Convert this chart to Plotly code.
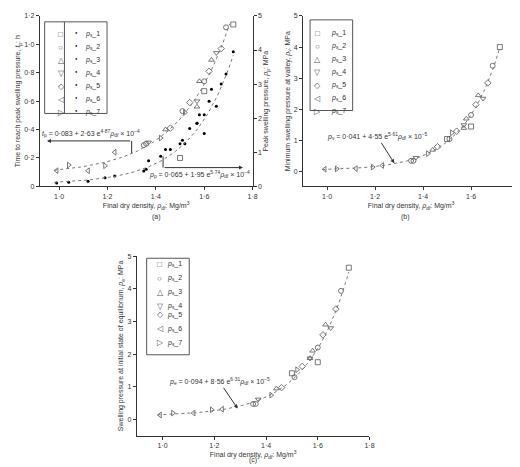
import numpy as np
import plotly.graph_objects as go

# specimens, series p_s_1 .. p_s_7
names = ['1', '2', '3', '4', '5', '6', '7']
symbols = ['square-open', 'circle-open', 'triangle-up-open', 'triangle-down-open',
           'diamond-open', 'triangle-left-open', 'triangle-right-open']
glyphs = ['□', '○', '△', '▽', '◇', '◁', '▷']

rho = [[1.50, 1.60, 1.72],
       [1.35, 1.36, 1.51, 1.60, 1.69],
       [1.44, 1.57, 1.58, 1.63],
       [1.37, 1.57, 1.65],
       [1.46, 1.54, 1.62, 1.67],
       [0.99, 1.12, 1.23],
       [1.04, 1.19, 1.42, 1.52]]
tp = [[0.20, 0.67, 1.14],
      [0.29, 0.30, 0.53, 0.74, 1.12],
      [0.40, 0.56, 0.74, 0.89],
      [0.31, 0.60, 0.94],
      [0.41, 0.59, 0.81, 0.97],
      [0.11, 0.11, 0.24],
      [0.15, 0.145, 0.34, 0.52]]
pp = [[1.25, 1.55, 3.95],
      [0.45, 0.50, 1.35, 2.10, 3.30],
      [1.08, 1.85, 2.10, 2.85],
      [0.75, 1.85, 2.35],
      [1.08, 1.70, 2.50, 3.00],
      [0.10, 0.15, 0.30],
      [0.12, 0.25, 0.88, 1.25]]
pv = [[1.05, 1.45, 4.00],
      [0.35, 0.35, 1.05, 1.82, 3.40],
      [0.70, 1.40, 1.70, 2.45],
      [0.45, 1.50, 2.35],
      [0.80, 1.30, 2.15, 2.85],
      [0.08, 0.10, 0.20],
      [0.09, 0.15, 0.58, 1.25]]
pe = [[1.41, 1.75, 4.65],
      [0.47, 0.47, 1.29, 2.20, 3.94],
      [0.94, 1.87, 2.10, 2.90],
      [0.61, 1.87, 2.80],
      [0.97, 1.62, 2.59, 3.38],
      [0.13, 0.19, 0.31],
      [0.19, 0.29, 0.74, 1.52]]

grey = '#555'
W, H = 520, 467
px = lambda x: x / W
py = lambda y: 1 - y / H

def lab(n):
    return '<i>p</i><sub>s</sub>_' + n

fig = go.Figure()
for i in range(7):
    mk = dict(symbol=symbols[i], size=5, color=grey, line=dict(width=0.8, color=grey))
    fig.add_trace(go.Scatter(x=rho[i], y=tp[i], mode='markers', marker=mk, xaxis='x', yaxis='y'))
    fig.add_trace(go.Scatter(x=rho[i], y=pp[i], mode='markers', marker=dict(size=3, color='black'),
                             xaxis='x', yaxis='y2'))
    fig.add_trace(go.Scatter(x=rho[i], y=pv[i], mode='markers', marker=mk, xaxis='x2', yaxis='y3'))
    fig.add_trace(go.Scatter(x=rho[i], y=pe[i], mode='markers', marker=mk, xaxis='x3', yaxis='y4'))

# fitted curves
xs = np.linspace(0.98, 1.72, 100)
xt = np.linspace(0.98, 1.705, 100)
fits = [(xt, 0.083 + 2.63e-4 * np.exp(4.87 * xt), 'x', 'y'),
        (xs, 0.065 + 1.95e-4 * np.exp(5.74 * xs), 'x', 'y2'),
        (xs, 0.041 + 4.55e-5 * np.exp(6.61 * xs), 'x2', 'y3'),
        (xs, 0.094 + 8.56e-5 * np.exp(6.31 * xs), 'x3', 'y4')]
for x, y, xa, ya in fits:
    fig.add_trace(go.Scatter(x=x, y=y, mode='lines', line=dict(color='#777', width=1, dash='dot'),
                             xaxis=xa, yaxis=ya))

tickv = [1.0, 1.2, 1.4, 1.6, 1.8]
tickt = ['1·0', '1·2', '1·4', '1·6', '1·8']
ax = dict(showline=True, linecolor='#333', linewidth=1, ticks='outside', ticklen=3, tickcolor='#333',
          showgrid=False, zeroline=False, tickfont=dict(size=7, color='#333'))
xt_title = 'Final dry density, <i>ρ</i><sub>df</sub>: Mg/m<sup>3</sup>'
tf = dict(size=7, color='#333')

fig.update_layout(
    width=W, height=H, margin=dict(l=0, r=0, t=0, b=0), showlegend=False,
    plot_bgcolor='white', paper_bgcolor='white',
    font=dict(family='Arial, Liberation Sans', color='#333'),
    xaxis=dict(ax, domain=[px(32), px(247)], range=[0.92, 1.8], tickvals=tickv, ticktext=tickt,
               anchor='y', title=dict(text=xt_title, font=tf, standoff=4)),
    yaxis=dict(ax, domain=[py(177), py(4)], range=[0, 1.2], anchor='x',
               tickvals=[0, 0.2, 0.4, 0.6, 0.8, 1.0, 1.2],
               ticktext=['0', '0·2', '0·4', '0·6', '0·8', '1·0', '1·2'],
               title=dict(text='Time to reach peak swelling pressure, <i>t</i><sub>p</sub>: h', font=tf, standoff=2)),
    yaxis2=dict(ax, overlaying='y', side='right', range=[0, 5], anchor='x', dtick=1,
                title=dict(text='Peak swelling pressure, <i>p</i><sub>p</sub>: MPa', font=tf, standoff=2)),
    xaxis2=dict(ax, domain=[px(298), px(516)], range=[0.9, 1.8], tickvals=tickv, ticktext=tickt,
                anchor='y3', title=dict(text=xt_title, font=tf, standoff=4)),
    yaxis3=dict(ax, domain=[py(177), py(4)], range=[-0.47, 5.0], dtick=1, anchor='x2',
                title=dict(text='Minimum swelling pressure at valley, <i>p</i><sub>v</sub>: MPa', font=tf, standoff=2)),
    xaxis3=dict(ax, domain=[px(130), px(365)], range=[0.9, 1.8], tickvals=tickv, ticktext=tickt,
                anchor='y4', title=dict(text=xt_title, font=tf, standoff=4)),
    yaxis4=dict(ax, domain=[py(430), py(248)], range=[-0.5, 5.0], dtick=1, anchor='x3',
                title=dict(text='Swelling pressure at initial state of equilibrium, <i>p</i><sub>e</sub>: MPa',
                           font=tf, standoff=2)),
)

def legend_box(x0, x1, y0, y1, sym_x, name_x, row0, step, dot_x=None, div_x=None):
    fig.add_shape(type='rect', xref='paper', yref='paper', x0=px(x0), x1=px(x1), y0=py(y1), y1=py(y0),
                  line=dict(color='#555', width=1), fillcolor='white')
    if div_x is not None:
        fig.add_shape(type='line', xref='paper', yref='paper', x0=px(div_x), x1=px(div_x), y0=py(y1), y1=py(y0),
                      line=dict(color='#555', width=1))
    for i in range(7):
        yy = py(row0 + i * step)
        fig.add_annotation(x=px(sym_x), y=yy, xref='paper', yref='paper', text=glyphs[i], showarrow=False,
                           font=dict(size=8, color=grey))
        if dot_x is not None:
            fig.add_annotation(x=px(dot_x), y=yy, xref='paper', yref='paper', text='●', showarrow=False,
                               font=dict(size=4, color='black'))
        fig.add_annotation(x=px(name_x), y=yy, xref='paper', yref='paper', text=lab(names[i]), showarrow=False,
                           xanchor='left', font=dict(size=7))

legend_box(37, 100, 10, 103, 48, 76, 16, 13.3, dot_x=66, div_x=57)
legend_box(305, 348, 8, 100, 313, 324, 15, 13.2)
legend_box(140, 183, 250, 348, 148, 159, 256, 14.3)

# brackets with arrows in (a)
fig.add_shape(type='line', xref='x', yref='y', x0=1.30, x1=1.30, y0=0.235, y1=0.32, line=dict(color='#333', width=1))
fig.add_annotation(x=0.95, y=0.32, ax=1.30, ay=0.32, xref='x', yref='y', axref='x', ayref='y',
                   showarrow=True, arrowhead=2, arrowsize=0.8, arrowwidth=1, arrowcolor='#333', text='')
fig.add_shape(type='line', xref='x', yref='y2', x0=1.43, x1=1.43, y0=0.88, y1=0.55, line=dict(color='#333', width=1))
fig.add_annotation(x=1.76, y=0.55, ax=1.43, ay=0.55, xref='x', yref='y2', axref='x', ayref='y2',
                   showarrow=True, arrowhead=2, arrowsize=0.8, arrowwidth=1, arrowcolor='#333', text='')
fig.add_annotation(x=1.13, y=0.37, xref='x', yref='y', showarrow=False, font=dict(size=7),
                   text='<i>t</i><sub>p</sub> = 0·083 + 2·63 e<sup>4·87</sup><i>ρ</i><sub>df</sub> × 10<sup>−4</sup>')
fig.add_annotation(x=1.58, y=0.36, xref='x', yref='y2', showarrow=False, font=dict(size=7),
                   text='<i>p</i><sub>p</sub> = 0·065 + 1·95 e<sup>5·74</sup><i>ρ</i><sub>df</sub> × 10<sup>−4</sup>')

fig.add_annotation(x=1.28, y=0.27, ax=1.21, ay=1.12, xref='x2', yref='y3', axref='x2', ayref='y3',
                   showarrow=True, arrowhead=2, arrowsize=0.8, arrowwidth=1, arrowcolor='#333',
                   font=dict(size=7),
                   text='<i>p</i><sub>v</sub> = 0·041 + 4·55 e<sup>5·61</sup><i>ρ</i><sub>df</sub> × 10<sup>−5</sup>')
fig.add_annotation(x=1.29, y=0.33, ax=1.22, ay=1.15, xref='x3', yref='y4', axref='x3', ayref='y4',
                   showarrow=True, arrowhead=2, arrowsize=0.8, arrowwidth=1, arrowcolor='#333',
                   font=dict(size=7),
                   text='<i>p</i><sub>e</sub> = 0·094 + 8·56 e<sup>6·31</sup><i>ρ</i><sub>df</sub> × 10<sup>−5</sup>')

for x, y, t in [(143, 208, '(a)'), (408, 208, '(b)'), (247, 461, '(c)')]:
    fig.add_annotation(x=px(x), y=py(y), xref='paper', yref='paper', text=t, showarrow=False, font=dict(size=7))

fig.write_html('out.html')
